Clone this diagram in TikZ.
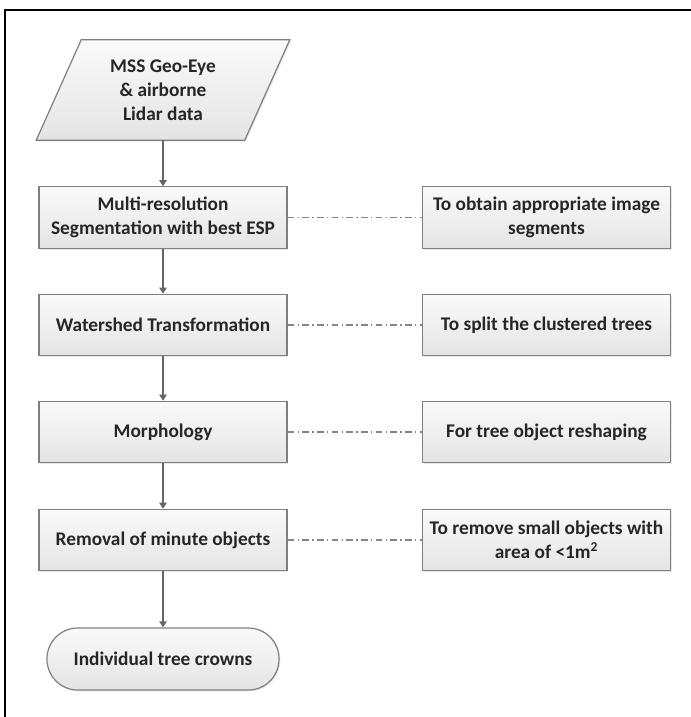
\documentclass[tikz,border=0pt]{standalone}
\usepackage{fontspec}
\setmainfont{Carlito}
\usetikzlibrary{arrows.meta,shadows,backgrounds}
\definecolor{bordc}{HTML}{7F7F7F}
\definecolor{boxtop}{HTML}{FAFAFA}
\definecolor{boxbot}{HTML}{E4E4E4}
\definecolor{txtc}{HTML}{262626}
\definecolor{linec}{HTML}{666666}
\begin{document}
\begin{tikzpicture}[x=0.75pt,y=-0.75pt,
  lbl/.style={font=\bfseries\fontsize{14.5}{18}\selectfont, text=txtc, align=center},
  boxshade/.style={draw=bordc, line width=0.9pt, top color=boxtop, bottom color=boxbot,
    drop shadow={opacity=0.18, shadow xshift=1pt, shadow yshift=-1pt}},
  stepbox/.style={lbl, boxshade, minimum width=186pt, minimum height=46pt, inner sep=0pt},
  termbox/.style={lbl, boxshade, rounded corners=23pt, minimum width=174pt, minimum height=46.5pt, inner sep=0pt},
  inbox/.style={lbl, minimum width=156pt, minimum height=75pt, inner sep=0pt},
  arr/.style={draw=linec, line width=0.9pt, -{Triangle[width=5.5pt,length=4.5pt]}},
  ddline/.style={draw=linec!80, line width=0.9pt, dash pattern=on 5pt off 2.5pt on 1pt off 2.5pt},
  frameline/.style={draw=black, line width=1.6pt}
]
\useasboundingbox (0,0) rectangle (691,717);
\draw[frameline] (691,10) -- (5,10) -- (5,717);

% input parallelogram
\node[inbox] (in) at (163,90) {MSS Geo-Eye\\ \& airborne\\ Lidar data};
\begin{scope}[on background layer]
\path[boxshade] ([xshift=16.9pt]in.north west) -- ([xshift=16.9pt]in.north east)
  -- ([xshift=-16.9pt]in.south east) -- ([xshift=-16.9pt]in.south west) -- cycle;
\end{scope}

% main steps
\node[stepbox] (b1) at (163,217.5) {Multi-resolution\\ Segmentation with best ESP};
\node[stepbox] (b2) at (163,325) {Watershed Transformation};
\node[stepbox] (b3) at (163,432) {Morphology};
\node[stepbox] (b4) at (163,540) {Removal of minute objects};
\node[termbox] (out) at (163,659) {Individual tree crowns};

% side notes
\node[stepbox] (r1) at (546.5,217.5) {To obtain appropriate image\\ segments};
\node[stepbox] (r2) at (546.5,325) {To split the clustered trees};
\node[stepbox] (r3) at (546.5,432) {For tree object reshaping};
\node[stepbox] (r4) at (546.5,540) {To remove small objects with\\ area of {<}1m\textsuperscript{2}};

% flow arrows
\draw[arr] (in.south) -- (b1.north);
\draw[arr] (b1) -- (b2);
\draw[arr] (b2) -- (b3);
\draw[arr] (b3) -- (b4);
\draw[arr] (b4) -- (out);

% dash-dot links
\draw[ddline] (b1) -- (r1);
\draw[ddline] (b2) -- (r2);
\draw[ddline] (b3) -- (r3);
\draw[ddline] (b4) -- (r4);
\end{tikzpicture}
\end{document}
